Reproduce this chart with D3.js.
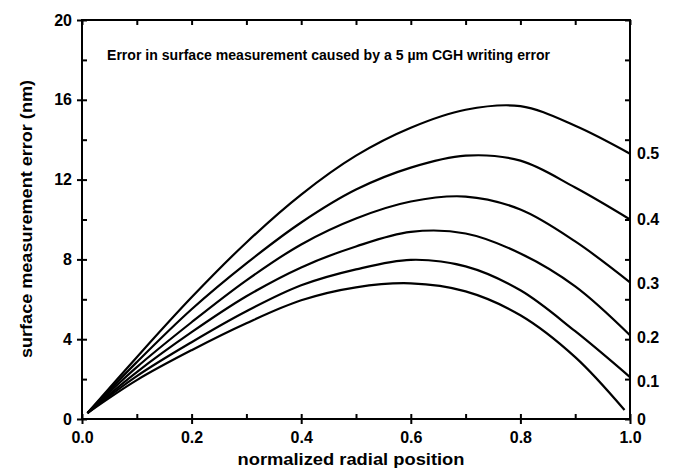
<!DOCTYPE html>
<html><head><meta charset="utf-8">
<script src="https://cdn.jsdelivr.net/npm/d3@7/dist/d3.min.js"></script>
<style>
body{margin:0;background:#fff;}
text{font-family:"Liberation Sans",Arial,sans-serif;}
</style></head>
<body><svg id="c" width="680" height="469"></svg>
<script>
const xs = [0.01, 0.1, 0.2, 0.3, 0.4, 0.5, 0.6, 0.7, 0.8, 0.9, 1.0];
const curve05 = [0.3, 3.1, 6.1, 8.85, 11.25, 13.2, 14.6, 15.5, 15.68, 14.7, 13.3];
const curve04 = [0.3, 2.85, 5.5, 7.8, 9.85, 11.5, 12.6, 13.2, 12.95, 11.6, 10.0];
const curve03 = [0.3, 2.6, 4.85, 6.95, 8.75, 10.05, 10.9, 11.15, 10.5, 8.9, 6.85];
const curve02 = [0.3, 2.35, 4.35, 6.15, 7.6, 8.65, 9.38, 9.3, 8.3, 6.65, 4.2];
const curve01 = [0.3, 2.15, 3.85, 5.4, 6.7, 7.5, 7.98, 7.65, 6.45, 4.4, 2.1];
const curve00x = [0.01, 0.1, 0.2, 0.3, 0.4, 0.5, 0.6, 0.7, 0.8, 0.9, 0.99];
const curve00 = [0.3, 1.95, 3.45, 4.8, 5.95, 6.6, 6.8, 6.4, 5.2, 3.1, 0.45];
const curveLabels = ["0.5", "0.4", "0.3", "0.2", "0.1", "0"];
const labelValues = [13.3, 10.0, 6.8, 4.1, 1.9, 0];
const xMajor = [0, 0.2, 0.4, 0.6, 0.8, 1.0];
const xMinor = [0.1, 0.3, 0.5, 0.7, 0.9];
const yMajor = [0, 4, 8, 12, 16, 20];
const yMinor = [2, 6, 10, 14, 18];
const title = "Error in surface measurement caused by a 5 \u00b5m CGH writing error";
const xTitle = "normalized radial position";
const yTitle = "surface measurement error (nm)";

const svg = d3.select("#c");
const L = 82, R = 630, T = 20, B = 419;
const x = d3.scaleLinear().domain([0, 1]).range([L, R]);
const y = d3.scaleLinear().domain([0, 20]).range([B, T]);

const series = [
  xs.map((d, i) => [d, curve05[i]]),
  xs.map((d, i) => [d, curve04[i]]),
  xs.map((d, i) => [d, curve03[i]]),
  xs.map((d, i) => [d, curve02[i]]),
  xs.map((d, i) => [d, curve01[i]]),
  curve00x.map((d, i) => [d, curve00[i]])
];
const line = d3.line().x(d => x(d[0])).y(d => y(d[1])).curve(d3.curveCatmullRom.alpha(0.5));
svg.append("g").selectAll("path").data(series).join("path")
  .attr("d", line).attr("fill", "none").attr("stroke", "#000").attr("stroke-width", 2.2);

function styleAxis(g) {
  g.selectAll(".domain").remove();
  g.selectAll("line").attr("stroke", "#000").attr("stroke-width", 2);
  g.selectAll("text").attr("font-size", 16).attr("font-weight", "bold").attr("fill", "#000");
}
const all = xMajor.concat(xMinor);
const yall = yMajor.concat(yMinor);
svg.append("g").attr("transform", `translate(0,${B})`)
  .call(d3.axisBottom(x).tickValues(xMajor).tickSize(5).tickPadding(8).tickFormat(d3.format(".1f"))).call(styleAxis);
svg.append("g").attr("transform", `translate(0,${B})`)
  .call(d3.axisBottom(x).tickValues(all).tickSize(-5).tickFormat("")).call(styleAxis);
svg.append("g").attr("transform", `translate(0,${T})`)
  .call(d3.axisTop(x).tickValues(all).tickSize(-5).tickFormat("")).call(styleAxis);
svg.append("g").attr("transform", `translate(${L},0)`)
  .call(d3.axisLeft(y).tickValues(yMajor).tickSize(5).tickPadding(5)).call(styleAxis);
svg.append("g").attr("transform", `translate(${L},0)`)
  .call(d3.axisLeft(y).tickValues(yall).tickSize(-5).tickFormat("")).call(styleAxis);
svg.append("g").attr("transform", `translate(${R},0)`)
  .call(d3.axisRight(y).tickValues(yall).tickSize(-5).tickFormat("")).call(styleAxis);

svg.append("rect").attr("x", L).attr("y", T).attr("width", R - L).attr("height", B - T)
  .attr("fill", "none").attr("stroke", "#000").attr("stroke-width", 2);

svg.append("g").selectAll("text").data(curveLabels).join("text")
  .attr("x", R + 7).attr("y", (d, i) => y(labelValues[i])).attr("dy", "0.36em")
  .attr("font-size", 16).attr("font-weight", "bold").text(d => d);

svg.append("text").attr("x", 107).attr("y", 60).attr("font-size", 14).attr("font-weight", "bold")
  .attr("textLength", 443).attr("lengthAdjust", "spacingAndGlyphs").text(title);
svg.append("text").attr("x", 351).attr("y", 465).attr("text-anchor", "middle")
  .attr("font-size", 17).attr("font-weight", "bold")
  .attr("textLength", 227).attr("lengthAdjust", "spacingAndGlyphs").text(xTitle);
svg.append("text").attr("transform", "translate(32,219) rotate(-90)").attr("text-anchor", "middle")
  .attr("font-size", 17).attr("font-weight", "bold")
  .attr("textLength", 278).attr("lengthAdjust", "spacingAndGlyphs").text(yTitle);
</script></body></html>
